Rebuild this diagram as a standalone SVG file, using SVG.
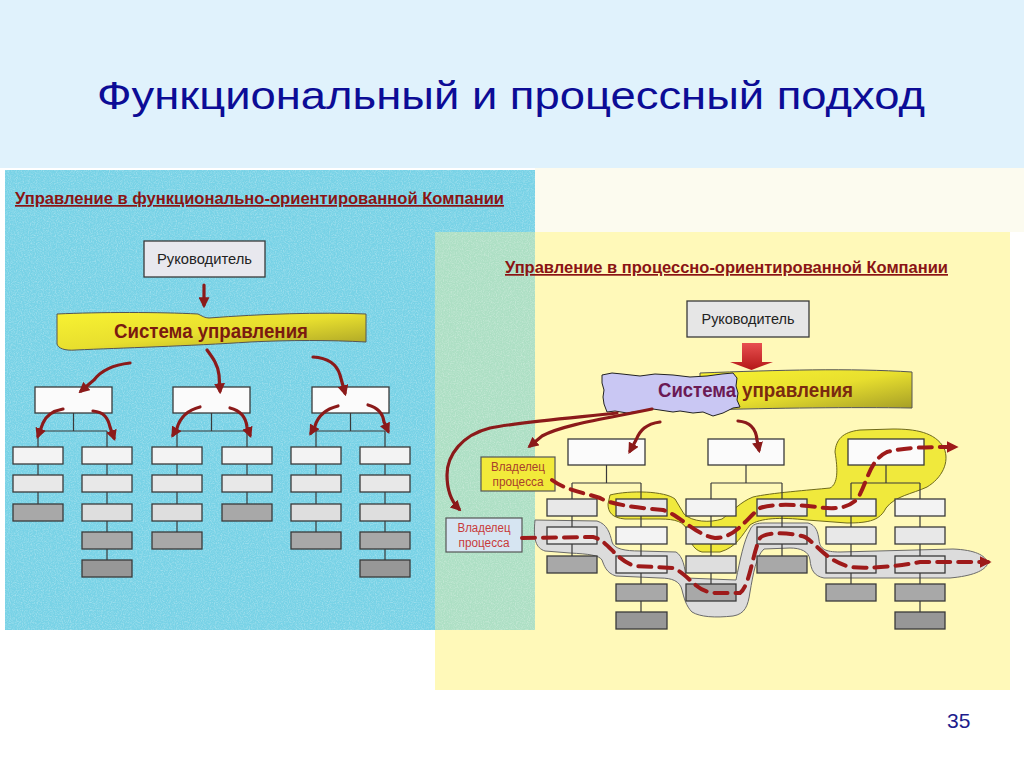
<svg xmlns="http://www.w3.org/2000/svg" width="1024" height="767" viewBox="0 0 1024 767">
<defs>
  <style>
    .box{stroke:#3a3a3a;stroke-width:1.3}
    .top{fill:#fbfbfb}
    .r1{fill:#f3f3f3}
    .r2{fill:#e8e8e8}
    .r3{fill:#dedede}
    .dk{fill:#a8a8a8}
    .dk2{fill:#979797}
    .ln{stroke:#3a3a3a;stroke-width:1.2;fill:none}
    .rarr{stroke:#8b1a1a;stroke-width:3.2;fill:none;stroke-linecap:round}
    .dash{stroke:#9e1a1a;stroke-width:4;fill:none;stroke-dasharray:13 8;stroke-linecap:round}
    .hdr{font-family:"Liberation Sans",Arial,sans-serif;font-weight:bold;font-size:17px;fill:#8a1414;text-decoration:underline}
    .lbl{font-family:"Liberation Sans",Arial,sans-serif;font-size:14.5px;fill:#222}
    .own{font-family:"Liberation Sans",Arial,sans-serif;font-size:12px;text-anchor:middle}
    .sys{font-family:"Liberation Sans",Arial,sans-serif;font-weight:bold;font-size:21px}
  </style>
  <linearGradient id="gBan" x1="0" y1="0" x2="1" y2="1">
    <stop offset="0" stop-color="#f8f232"/>
    <stop offset="0.5" stop-color="#e8df2e"/>
    <stop offset="1" stop-color="#a39c26"/>
  </linearGradient>
  <linearGradient id="gRed" x1="0" y1="0" x2="0" y2="1">
    <stop offset="0" stop-color="#e85050"/>
    <stop offset="1" stop-color="#b41818"/>
  </linearGradient>
  <filter id="speck" x="0" y="0" width="1" height="1">
    <feTurbulence type="fractalNoise" baseFrequency="0.85" numOctaves="2" seed="4" result="n"/>
    <feColorMatrix in="n" type="matrix" values="0 0 0 0 1  0 0 0 0 1  0 0 0 0 1  2.2 0 0 0 -0.9"/>
  </filter>
  <marker id="ah" viewBox="0 0 10 10" refX="7" refY="5" markerWidth="11" markerHeight="11" markerUnits="userSpaceOnUse" orient="auto">
    <path d="M0,0 L10,5 L0,10 z" fill="#8b1a1a"/>
  </marker>
  <marker id="ahd" viewBox="0 0 10 10" refX="7" refY="5" markerWidth="12" markerHeight="12" markerUnits="userSpaceOnUse" orient="auto">
    <path d="M0,0 L10,5 L0,10 z" fill="#9e1a1a"/>
  </marker>
</defs>

<!-- backgrounds -->
<rect x="0" y="0" width="1024" height="767" fill="#ffffff"/>
<rect x="0" y="0" width="1024" height="168" fill="#e0f2fc"/>
<rect x="535" y="168" width="489" height="64" fill="#fcfbef"/>
<rect x="5" y="170" width="530" height="460" fill="#78d2e6"/>
<rect x="5" y="170" width="530" height="460" fill="#ffffff" opacity="0.3" filter="url(#speck)"/>
<rect x="435" y="232" width="575" height="458" fill="#fff9b9"/>
<rect x="435" y="232" width="100" height="398" fill="#addfc4"/>
<rect x="435" y="232" width="100" height="398" fill="#ffffff" opacity="0.3" filter="url(#speck)"/>

<!-- title -->
<text x="97" y="109" font-family="'Liberation Sans',Arial,sans-serif" font-size="39" fill="#0c0c96" textLength="828" lengthAdjust="spacingAndGlyphs">Функциональный и процессный подход</text>
<text x="947" y="728" font-family="'Liberation Sans',Arial,sans-serif" font-size="21" fill="#1c1c8c">35</text>

<!-- LEFT PANEL -->
<text class="hdr" x="15" y="204" textLength="489" lengthAdjust="spacingAndGlyphs">Управление в функционально-ориентированной Компании</text>

<g id="L-ruk">
  <rect class="box" x="144" y="241" width="121" height="36" fill="#e8e8ee"/>
  <text class="lbl" x="204.5" y="264" text-anchor="middle" textLength="95" lengthAdjust="spacingAndGlyphs">Руководитель</text>
</g>
<g id="L-sys">
  <path d="M57,314 C100,312 160,312 198,314 C202,316 205,318 209,318 C260,314 320,312 366,314 L366,342 C330,340 290,340 250,342 C190,346 120,348 76,350 C64,351 58,348 57,344 Z" fill="url(#gBan)" stroke="#555" stroke-width="1"/>
  <text class="sys" x="114" y="338" fill="#7a1a10" textLength="194" lengthAdjust="spacingAndGlyphs">Система управления</text>
</g>

<g id="L-tops">
  <rect class="box top" x="35" y="387" width="77" height="26"/>
  <rect class="box top" x="173" y="387" width="77" height="26"/>
  <rect class="box top" x="312" y="387" width="77" height="26"/>
</g>

<g id="L-lines">
  <path class="ln" d="M73.5,413 V431 M38,431 H107 M38,431 V447 M107,431 V447"/>
  <path class="ln" d="M211.5,413 V431 M177,431 H247 M177,431 V447 M247,431 V447"/>
  <path class="ln" d="M350.5,413 V431 M316,431 H385 M316,431 V447 M385,431 V447"/>
  <path class="ln" d="M38,464 V475 M38,492 V504"/>
  <path class="ln" d="M107,464 V475 M107,492 V504 M107,521 V532 M107,549 V560"/>
  <path class="ln" d="M177,464 V475 M177,492 V504 M177,521 V532"/>
  <path class="ln" d="M247,464 V475 M247,492 V504"/>
  <path class="ln" d="M316,464 V475 M316,492 V504 M316,521 V532"/>
  <path class="ln" d="M385,464 V475 M385,492 V504 M385,521 V532 M385,549 V560"/>
</g>

<g id="L-col1">
  <rect class="box r1" x="13" y="447" width="50" height="17"/>
  <rect class="box r2" x="13" y="475" width="50" height="17"/>
  <rect class="box dk" x="13" y="504" width="50" height="17"/>
</g>
<g id="L-col2">
  <rect class="box r1" x="82" y="447" width="50" height="17"/>
  <rect class="box r2" x="82" y="475" width="50" height="17"/>
  <rect class="box r3" x="82" y="504" width="50" height="17"/>
  <rect class="box dk" x="82" y="532" width="50" height="17"/>
  <rect class="box dk2" x="82" y="560" width="50" height="17"/>
</g>
<g id="L-col3">
  <rect class="box r1" x="152" y="447" width="50" height="17"/>
  <rect class="box r2" x="152" y="475" width="50" height="17"/>
  <rect class="box r3" x="152" y="504" width="50" height="17"/>
  <rect class="box dk" x="152" y="532" width="50" height="17"/>
</g>
<g id="L-col4">
  <rect class="box r1" x="222" y="447" width="50" height="17"/>
  <rect class="box r2" x="222" y="475" width="50" height="17"/>
  <rect class="box dk" x="222" y="504" width="50" height="17"/>
</g>
<g id="L-col5">
  <rect class="box r1" x="291" y="447" width="50" height="17"/>
  <rect class="box r2" x="291" y="475" width="50" height="17"/>
  <rect class="box r3" x="291" y="504" width="50" height="17"/>
  <rect class="box dk" x="291" y="532" width="50" height="17"/>
</g>
<g id="L-col6">
  <rect class="box r1" x="360" y="447" width="50" height="17"/>
  <rect class="box r2" x="360" y="475" width="50" height="17"/>
  <rect class="box r3" x="360" y="504" width="50" height="17"/>
  <rect class="box dk" x="360" y="532" width="50" height="17"/>
  <rect class="box dk2" x="360" y="560" width="50" height="17"/>
</g>

<g id="L-arrows">
  <path class="rarr" d="M204,285 V305" marker-end="url(#ah)"/>
  <path class="rarr" d="M130,363 C112,365 100,372 94,380 L81,391" marker-end="url(#ah)"/>
  <path class="rarr" d="M207,350 C213,358 218,365 219,375 L220,391" marker-end="url(#ah)"/>
  <path class="rarr" d="M313,357 C330,358 337,365 340,375 L345,393" marker-end="url(#ah)"/>
  <path class="rarr" d="M63,409 C52,411 46,416 43,423 L38,436" marker-end="url(#ah)"/>
  <path class="rarr" d="M93,411 C104,412 108,418 110,427 L114,438" marker-end="url(#ah)"/>
  <path class="rarr" d="M200,407 C188,410 180,418 177,428 L173,435" marker-end="url(#ah)"/>
  <path class="rarr" d="M230,408 C242,411 246,418 247,427 L250,435" marker-end="url(#ah)"/>
  <path class="rarr" d="M338,406 C326,409 318,416 315,426 L311,433" marker-end="url(#ah)"/>
  <path class="rarr" d="M368,405 C379,408 383,414 384,422 L388,431" marker-end="url(#ah)"/>
</g>

<!-- RIGHT PANEL -->
<text class="hdr" x="505" y="273" textLength="443" lengthAdjust="spacingAndGlyphs">Управление в процессно-ориентированной Компании</text>

<g id="R-ruk">
  <rect class="box" x="687" y="301" width="122" height="36" fill="#e6e6e6"/>
  <text class="lbl" x="748" y="324" text-anchor="middle" textLength="93" lengthAdjust="spacingAndGlyphs">Руководитель</text>
</g>
<g id="R-bigarrow">
  <path d="M742,343 H762 V362 H773 L751.5,370 L730,362 H742 Z" fill="url(#gRed)"/>
</g>
<g id="R-sys">
  <path d="M700,373 C780,370 850,368 912,372 L912,408 C850,407 780,408 700,410 Z" fill="url(#gBan)" stroke="#555" stroke-width="1"/>
  <path d="M602,375 L612,373 L622,374 L640,376 L655,374 L673,375 L690,377 L707,376 L722,374 L733,373 L737,378 L736,386 L738,393 L737,400 L740,407 L733,408 L723,413 L713,416 L703,412 L693,413 L680,411 L673,412 L653,409 L640,411 L627,413 L615,411 L607,412 L604,404 L603,397 L604,390 L602,383 Z" fill="#c9c7f3" stroke="#222" stroke-width="1"/>
  <text class="sys" x="658" y="397" fill="#6b1a55" textLength="78" lengthAdjust="spacingAndGlyphs">Система</text>
  <text class="sys" x="742" y="397" fill="#7a2a10" textLength="111" lengthAdjust="spacingAndGlyphs">управления</text>
</g>

<g id="R-blob-yellow">
  <path d="M610,495 C630,490 665,491 675,499 L684,514 C692,522 710,523 722,519 C732,512 740,502 753,497 C770,493 810,490 830,488 C838,484 838,470 835,452 C836,440 842,432 860,430 L893,429 C915,429 935,432 944,448 C950,462 942,478 927,487 C912,494 895,496 886,508 C880,520 870,523 847,523 L807,520 C780,517 760,518 750,525 C742,535 737,547 720,552 L702,552 C693,550 689,540 687,530 C684,522 676,519 660,519 L625,519 C612,518 608,512 608,504 Z" fill="#f0e93c" stroke="#6f6a1a" stroke-width="1"/>
</g>
<g id="R-blob-gray">
  <path d="M535,520 L597,521 C607,524 610,533 612,542 C614,549 625,551 640,551 L676,552 C683,556 685,568 686,578 L736,580 C740,560 744,540 750,530 C752,524 757,523 765,523 L808,523 C816,525 818,532 819,540 C820,549 825,552 840,552 L953,549 C975,550 985,555 988,563 C985,571 972,576 950,578 L824,578 C814,576 811,570 810,560 C809,551 800,548 790,548 L764,549 C756,556 753,575 750,592 C748,606 745,614 733,616 C715,618 700,617 692,612 C686,606 684,598 682,590 C680,581 672,578 660,578 L616,576 C606,573 604,565 602,560 C599,555 588,554 570,553 L545,551 C536,548 533,540 535,520 Z" fill="#dcdcdc" stroke="#6a6a6a" stroke-width="1"/>
</g>

<g id="R-lines">
  <path class="ln" d="M606.5,465 V483 M572,483 H641 M572,483 V499 M641,483 V499"/>
  <path class="ln" d="M746,465 V483 M711,483 H782 M711,483 V499 M782,483 V499"/>
  <path class="ln" d="M886,465 V483 M851,483 H920 M851,483 V499 M920,483 V499"/>
  <path class="ln" d="M572,516 V527 M572,544 V556"/>
  <path class="ln" d="M641,516 V527 M641,544 V556 M641,573 V584 M641,601 V612"/>
  <path class="ln" d="M711,516 V527 M711,544 V556 M711,573 V584"/>
  <path class="ln" d="M782,516 V527 M782,544 V556"/>
  <path class="ln" d="M851,516 V527 M851,544 V556 M851,573 V584"/>
  <path class="ln" d="M920,516 V527 M920,544 V556 M920,573 V584 M920,601 V612"/>
</g>

<g id="R-tops">
  <rect class="box top" x="568" y="439" width="77" height="26"/>
  <rect class="box top" x="708" y="439" width="76" height="26"/>
  <rect class="box top" x="848" y="439" width="76" height="26"/>
</g>
<g id="R-col1">
  <rect class="box r2" x="547" y="499" width="50" height="17"/>
  <rect class="box r2" x="547" y="527" width="50" height="17"/>
  <rect class="box dk" x="547" y="556" width="50" height="17"/>
</g>
<g id="R-col2">
  <rect class="box r2" x="616" y="499" width="51" height="17"/>
  <rect class="box r1" x="616" y="527" width="51" height="17"/>
  <rect class="box r2" x="616" y="556" width="51" height="17"/>
  <rect class="box dk" x="616" y="584" width="51" height="17"/>
  <rect class="box dk2" x="616" y="612" width="51" height="17"/>
</g>
<g id="R-col3">
  <rect class="box r1" x="686" y="499" width="50" height="17"/>
  <rect class="box r2" x="686" y="527" width="50" height="17"/>
  <rect class="box r3" x="686" y="556" width="50" height="17"/>
  <rect class="box dk" x="686" y="584" width="50" height="17"/>
</g>
<g id="R-col4">
  <rect class="box r2" x="757" y="499" width="50" height="17"/>
  <rect class="box r3" x="757" y="527" width="50" height="17"/>
  <rect class="box dk" x="757" y="556" width="50" height="17"/>
</g>
<g id="R-col5">
  <rect class="box r1" x="826" y="499" width="50" height="17"/>
  <rect class="box r2" x="826" y="527" width="50" height="17"/>
  <rect class="box r3" x="826" y="556" width="50" height="17"/>
  <rect class="box dk" x="826" y="584" width="50" height="17"/>
</g>
<g id="R-col6">
  <rect class="box r1" x="895" y="499" width="50" height="17"/>
  <rect class="box r2" x="895" y="527" width="50" height="17"/>
  <rect class="box r3" x="895" y="556" width="50" height="17"/>
  <rect class="box dk" x="895" y="584" width="50" height="17"/>
  <rect class="box dk2" x="895" y="612" width="50" height="17"/>
</g>

<g id="owner-yellow">
  <rect x="481" y="457" width="74" height="34" fill="#f2ea3a" stroke="#555" stroke-width="1.2"/>
  <text class="own" x="518" y="471" fill="#a8402c" textLength="54" lengthAdjust="spacingAndGlyphs">Владелец</text>
  <text class="own" x="518" y="486" fill="#a8402c" textLength="51" lengthAdjust="spacingAndGlyphs">процесса</text>
</g>
<g id="owner-blue">
  <rect x="446" y="518" width="76" height="34" fill="#d6e5f2" stroke="#555" stroke-width="1.2"/>
  <text class="own" x="484" y="532" fill="#c83a3a" textLength="53" lengthAdjust="spacingAndGlyphs">Владелец</text>
  <text class="own" x="484" y="547" fill="#c83a3a" textLength="51" lengthAdjust="spacingAndGlyphs">процесса</text>
</g>

<g id="R-arrows">
  <path class="rarr" d="M617,413 C570,418 520,422 490,428 C462,435 447,455 447,475 C447,492 452,502 459,509" marker-end="url(#ah)"/>
  <path class="rarr" d="M652,409 C610,418 565,424 542,436 L530,446" marker-end="url(#ah)"/>
  <path class="rarr" d="M660,422 C646,424 640,430 636,440 L630,451" marker-end="url(#ah)"/>
  <path class="rarr" d="M738,421 C750,422 756,428 757,440 L759,450" marker-end="url(#ah)"/>
  <path class="dash" d="M552,480 C565,490 585,493 600,498 C612,505 640,508 663,510 C680,515 695,535 715,538 C735,538 745,520 760,508 C775,503 800,505 817,507 C835,510 850,508 858,498 C868,480 870,460 887,452 C905,447 930,447 955,447" marker-end="url(#ahd)"/>
  <path class="dash" d="M522,538 L593,537 C608,540 615,560 635,566 L673,568 C690,575 695,592 715,593 L740,593 C750,585 752,555 760,538 C765,532 790,532 805,537 C818,545 825,560 850,567 C870,569 900,566 920,562 L988,562" marker-end="url(#ahd)"/>
</g>
</svg>
